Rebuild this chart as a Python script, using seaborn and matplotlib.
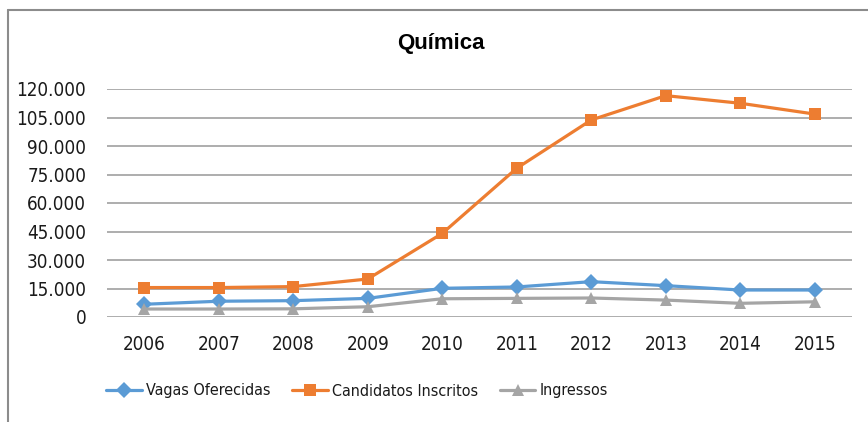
import numpy as np
import pandas as pd
import matplotlib.pyplot as plt
import seaborn as sns
from matplotlib import font_manager
from matplotlib.lines import Line2D
from matplotlib.ticker import FuncFormatter

# Data
years = ['2006', '2007', '2008', '2009', '2010', '2011', '2012', '2013', '2014', '2015']
vagas = [6700, 8300, 8600, 9800, 15100, 15800, 18600, 16500, 14200, 14200]
candidatos = [15500, 15500, 16000, 20000, 44000, 78300, 103700, 116500, 112500, 106800]
ingressos = [4200, 4200, 4300, 5400, 9600, 9800, 10000, 8900, 7200, 8000]

series_names = ['Vagas Oferecidas', 'Candidatos Inscritos', 'Ingressos']
data = pd.DataFrame({
    'Ano': years * 3,
    'Valor': vagas + candidatos + ingressos,
    'Serie': np.repeat(series_names, len(years)),
})

sns.set_style('white')

# Pick a narrow font if one is installed (Excel chart uses Arial Narrow)
fonts = font_manager.fontManager.ttflist
names = {f.name for f in fonts}
dejavu_cond = any(f.name == 'DejaVu Sans' and 'condensed' in str(f.stretch) for f in fonts)
if 'Liberation Sans Narrow' in names:
    txt = dict(family=['Liberation Sans Narrow', 'DejaVu Sans'], size=15.5, leg=15.5, stretch='normal')
elif dejavu_cond:
    txt = dict(family=['DejaVu Sans'], size=13.5, leg=11.5, stretch='condensed')
else:
    txt = dict(family=['Liberation Sans', 'DejaVu Sans'], size=13.5, leg=11.5, stretch='normal')
plt.rcParams['font.family'] = txt['family']
plt.rcParams['font.stretch'] = txt['stretch']

W, H = 868, 422
fig = plt.figure(figsize=(W / 100, H / 100), dpi=100)
ax = fig.add_axes([107 / W, 1 - 317 / H, (852 - 107) / W, (317 - 89) / H])

palette = {'Vagas Oferecidas': '#5B9BD5', 'Candidatos Inscritos': '#ED7D31', 'Ingressos': '#A5A5A5'}
markers = {'Vagas Oferecidas': 'D', 'Candidatos Inscritos': 's', 'Ingressos': '^'}
sns.lineplot(data=data, x='Ano', y='Valor', hue='Serie', style='Serie', palette=palette,
             markers=markers, dashes=False, linewidth=2.3, markersize=8,
             markeredgewidth=0, ax=ax, zorder=3)

# Axes styling
ax.set_xlim(-0.5, len(years) - 0.5)
ax.set_ylim(0, 120000)
ax.set_yticks(np.arange(0, 120001, 15000))
ax.yaxis.set_major_formatter(FuncFormatter(lambda v, p: f"{int(v):,}".replace(',', '.')))
ax.grid(axis='y', color='#A0A0A0', linewidth=1.2)
ax.grid(axis='x', visible=False)
for s in ax.spines.values():
    s.set_visible(False)
ax.tick_params(axis='both', length=0, labelsize=txt['size'], colors='#1a1a1a')
ax.tick_params(axis='y', pad=15)
ax.tick_params(axis='x', pad=13)
ax.set_xlabel('')
ax.set_ylabel('')

# Title
fig.text(441 / W, 1 - 43 / H, 'Química', ha='center', va='center', fontsize=16,
         fontweight='bold', color='black', family=['Liberation Sans', 'DejaVu Sans'],
         fontstretch='normal')

# Legend
handles, labels = ax.get_legend_handles_labels()
ax.legend_.remove()
fig.legend(handles, labels, loc='center', bbox_to_anchor=(357 / W, 1 - 391 / H), ncol=3,
           frameon=False, fontsize=txt['leg'], handlelength=2.2, handletextpad=0.25,
           columnspacing=1.4, borderaxespad=0, labelcolor='#1a1a1a')

# Chart border (top and left)
fig.add_artist(Line2D([7.5 / W, 1], [1 - 9.5 / H, 1 - 9.5 / H], color='#8C8C8C', linewidth=1.5))
fig.add_artist(Line2D([7.5 / W, 7.5 / W], [0, 1 - 9.5 / H], color='#8C8C8C', linewidth=1.5))

plt.savefig('out.png', dpi=100)
